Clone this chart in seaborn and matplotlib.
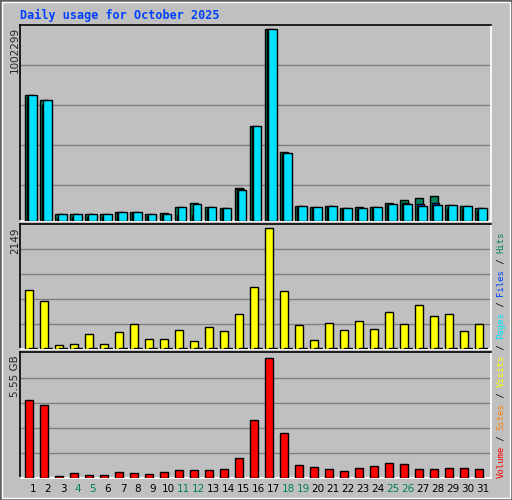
import matplotlib
matplotlib.use("Agg")
import matplotlib.pyplot as plt
import numpy as np
import seaborn as sns
from matplotlib.patches import Rectangle

days = list(range(1, 32))
weekend_days = [4, 5, 11, 12, 18, 19, 25, 26]
# thousands of requests
hits = [657, 633, 35, 35, 35, 35, 47, 47, 35, 40, 72, 94, 72, 66, 171, 495,
        1002, 359, 77, 72, 77, 66, 72, 72, 94, 110, 120, 131, 82, 77, 66]
files = [647, 605, 14, 19, 19, 19, 40, 40, 25, 35, 30, 30, 61, 61, 166, 490,
         997, 349, 72, 66, 72, 61, 61, 66, 82, 93, 89, 94, 61, 61, 51]
pages = [657, 633, 35, 35, 35, 35, 47, 47, 35, 35, 72, 87, 72, 66, 160, 495,
         1002, 354, 77, 72, 77, 66, 66, 72, 87, 87, 77, 82, 82, 77, 66]
visits = [1048, 852, 71, 89, 266, 89, 302, 444, 178, 178, 337, 142, 391, 320,
          622, 1101, 2149, 1030, 426, 160, 462, 337, 497, 355, 657, 444, 781,
          586, 622, 320, 444]
sites = [20] * 31
volume_gb = [3.60, 3.36, 0.11, 0.25, 0.15, 0.15, 0.29, 0.25, 0.20, 0.29, 0.39,
             0.39, 0.39, 0.43, 0.94, 2.67, 5.55, 2.06, 0.62, 0.53, 0.43, 0.34,
             0.48, 0.57, 0.71, 0.67, 0.43, 0.43, 0.48, 0.48, 0.43]

C_HITS, C_FILES, C_PAGES = "#00805C", "#0040FF", "#00E0FF"
C_VISITS, C_SITES, C_VOL = "#FFFF00", "#FF8000", "#FF0000"
BG = "#C0C0C0"

sns.set_style("white")
plt.rcParams["font.family"] = ["DejaVu Sans Mono", "DejaVu Sans"]

W, H = 512, 500
fig = plt.figure(figsize=(W / 100, H / 100), dpi=100, facecolor=BG)
fig.patches.append(Rectangle((0, 0), 1, 1, transform=fig.transFigure,
                             fill=False, edgecolor="#606060", lw=2))
fig.patches.append(Rectangle((2 / W, 2 / H), 1 - 4 / W, 1 - 4 / H,
                             transform=fig.transFigure, fill=False,
                             edgecolor="white", lw=1))


def panel(top, bottom):
    ax = fig.add_axes([20 / W, 1 - bottom / H, 471 / W, (bottom - top) / H])
    ax.set_facecolor(BG)
    ax.set_xlim(0, 31.4)
    ax.set_xticks([])
    ax.set_yticks([])
    for s in ["top", "left"]:
        ax.spines[s].set_color("black")
    for s in ["bottom", "right"]:
        ax.spines[s].set_color("white")
    for s in ax.spines.values():
        s.set_linewidth(1.2)
    return ax


x = np.array(days) - 1 + 0.35
kw = dict(align="edge", edgecolor="black", linewidth=1, zorder=3)

ax1 = panel(25, 221)
top1 = 1002 * 196 / 192
ax1.set_ylim(0, top1)
for g in [36, 76, 116, 156]:
    ax1.axhline(g / 196 * top1, color="#808080", lw=1, zorder=1)
ax1.bar(x, hits, width=0.5, color=C_HITS, **kw)
ax1.bar(x + 0.11, files, width=0.5, color=C_FILES, **kw)
ax1.bar(x + 0.2, pages, width=0.55, color=C_PAGES, **kw)

ax2 = panel(224, 349)
top2 = 2149 * 125 / 121
ax2.set_ylim(0, top2)
for g in [25, 50, 75, 100]:
    ax2.axhline(g / 125 * top2, color="#808080", lw=1, zorder=1)
ax2.bar(x, visits, width=0.53, color=C_VISITS, **kw)
ax2.bar(x + 0.25, sites, width=0.5, color=C_SITES, **kw)

ax3 = panel(352, 478)
top3 = 5.55 * 126 / 120
ax3.set_ylim(0, top3)
for g in [25, 50, 75, 100]:
    ax3.axhline(g / 126 * top3, color="#808080", lw=1, zorder=1)
ax3.bar(x, volume_gb, width=0.5, color=C_VOL, **kw)

for d in days:
    fig.text((20 + 15 * (d - 1) + 13) / W, 1 - 489 / H, str(d),
             color=C_HITS if d in weekend_days else "black",
             ha="center", va="center", fontsize=7.5, family="DejaVu Sans")

fig.text(20 / W, 1 - 15 / H, "Daily usage for October 2025", color=C_FILES,
         fontsize=8.5, fontweight="bold", ha="left", va="center")

for label, ytop in [("1002299", 27), ("2149", 228), ("5.55 GB", 355)]:
    fig.text(15 / W, 1 - ytop / H, label, rotation=90, ha="center", va="top",
             fontsize=7.5, family="DejaVu Sans")

legend = [("Volume", C_VOL), (" / ", "black"), ("Sites", C_SITES),
          (" / ", "black"), ("Visits", C_VISITS), (" / ", "black"),
          ("Pages", C_PAGES), (" / ", "black"), ("Files", C_FILES),
          (" / ", "black"), ("Hits", C_HITS)]
pos = 0
cw = 246 / 46
for txt, col in legend:
    fig.text(501 / W, 1 - (478 - pos * cw) / H, txt, rotation=90,
             color=col, ha="center", va="bottom", fontsize=6.4)
    pos += len(txt)

fig.savefig("out.png", dpi=100, facecolor=BG)
